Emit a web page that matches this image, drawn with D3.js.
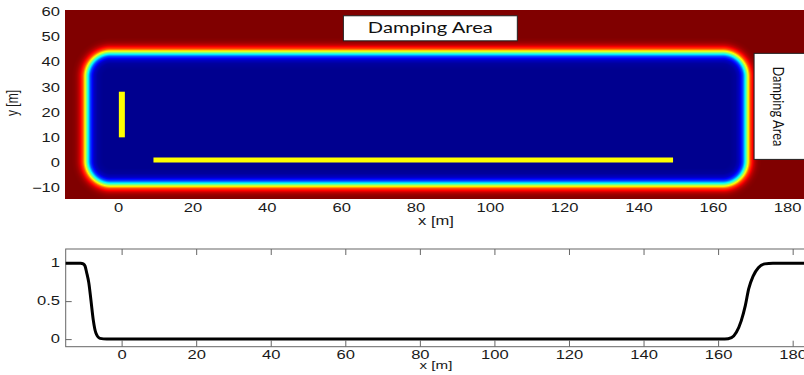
<!DOCTYPE html>
<html>
<head>
<meta charset="utf-8">
<script src="https://cdn.jsdelivr.net/npm/d3@7/dist/d3.min.js"></script>
<style>
  body { margin: 0; background: #fff; }
  svg { display: block; }
  .tick text { font-family: "Liberation Sans", Arial, sans-serif; font-size: 12px; fill: #1a1a1a; }
</style>
</head>
<body>
<svg id="chart" width="804" height="375"></svg>
<script>

// tick labels
var topXTicks = [0, 20, 40, 60, 80, 100, 120, 140, 160, 180];
var topYTicks = [-10, 0, 10, 20, 30, 40, 50, 60];
var botXTicks = [0, 20, 40, 60, 80, 100, 120, 140, 160, 180];
var botYTicks = [0, 0.5, 1];

// damping zone: inner edge (value 0.5) and corner radius, in metres
var dampEdgeX = [-8.5, 169.1];
var dampEdgeY = [-8.9, 43.8];
var dampCorner = 6.5;
// damping profile across the edge (distance outward in m -> coefficient)
var profileDist = [-4.5, -3, -2, -1, 0, 1, 2, 2.6, 3.2, 4];
var profileVal  = [0, 0.015, 0.06, 0.2, 0.5, 0.8, 0.93, 0.97, 0.99, 1];

// structures drawn in yellow
var wavemakerX = [1, 1],      wavemakerY = [10, 28.2];
var hullX      = [9.5, 149.3], hullY      = [1, 1];

// annotation boxes
var boxTopX = [60.6, 107.4],  boxTopY = [48.5, 58.5];
var boxRightX = [171.1, 190], boxRightY = [1.2, 43.5];

// damping coefficient along the tank (bottom plot)
var curveX = [-15, -12, -11, -10.3, -9.8, -9.4, -8.8, -8.2, -7.6, -6.9, -5.8, -4, 0, 20, 40, 60, 80,
              100, 120, 140, 160, 161.8, 163.6, 164.9, 166.2, 167.3, 168.2, 169.4, 170.8, 172.5, 174.7, 180, 185];
var curveY = [1, 1, 1, 0.99, 0.96, 0.88, 0.74, 0.5, 0.25, 0.08, 0.01, 0, 0, 0, 0, 0, 0,
              0, 0, 0, 0, 0, 0.02, 0.09, 0.24, 0.44, 0.66, 0.83, 0.94, 0.99, 1, 1, 1];

var svg = d3.select("#chart");
var SX = 1.38;   // labels in the picture are stretched sideways

// ---------- top plot ----------
var xTop = d3.scaleLinear().domain([-14.3, 184.8]).range([65, 805]);
var yTop = d3.scaleLinear().domain([-14.6, 60.8]).range([199, 10]);

var jet = d3.scaleLinear()
    .domain([0, 0.125, 0.375, 0.625, 0.875, 1])
    .range(["#00008f", "#0000ff", "#00ffff", "#ffff00", "#ff0000", "#800000"])
    .interpolate(d3.interpolateRgb)
    .clamp(true);
var profile = d3.scaleLinear().domain(profileDist).range(profileVal).clamp(true);

var x0 = xTop.range()[0], x1 = xTop.range()[1];
var y0 = yTop.range()[1], y1 = yTop.range()[0];
var W = Math.round(x1 - x0), H = Math.round(y1 - y0);
var canvas = document.createElement("canvas");
canvas.width = W; canvas.height = H;
var ctx = canvas.getContext("2d");
var img = ctx.createImageData(W, H);

var kx = xTop(1) - xTop(0);
var L = xTop(dampEdgeX[0]), R = xTop(dampEdgeX[1]);
var T = yTop(dampEdgeY[1]), B = yTop(dampEdgeY[0]);
var r = dampCorner * kx;
var cx = (L + R) / 2, cy = (T + B) / 2;
var hw = (R - L) / 2 - r, hh = (B - T) / 2 - r;

for (var j = 0; j < H; j++) {
    for (var i = 0; i < W; i++) {
        var px = x0 + i + 0.5, py = y0 + j + 0.5;
        var qx = Math.abs(px - cx) - hw, qy = Math.abs(py - cy) - hh;
        var sd = Math.hypot(Math.max(qx, 0), Math.max(qy, 0)) + Math.min(Math.max(qx, qy), 0) - r;
        var c = d3.rgb(jet(profile(sd / kx)));
        var k = (j * W + i) * 4;
        img.data[k] = c.r; img.data[k + 1] = c.g; img.data[k + 2] = c.b; img.data[k + 3] = 255;
    }
}
ctx.putImageData(img, 0, 0);

svg.append("image")
    .attr("x", x0).attr("y", y0)
    .attr("width", W).attr("height", H)
    .attr("preserveAspectRatio", "none")
    .attr("href", canvas.toDataURL());

svg.append("line")
    .attr("x1", xTop(wavemakerX[0])).attr("x2", xTop(wavemakerX[1]))
    .attr("y1", yTop(wavemakerY[0])).attr("y2", yTop(wavemakerY[1]))
    .attr("stroke", "#ffff00").attr("stroke-width", 6);
svg.append("line")
    .attr("x1", xTop(hullX[0])).attr("x2", xTop(hullX[1]))
    .attr("y1", yTop(hullY[0])).attr("y2", yTop(hullY[1]))
    .attr("stroke", "#ffff00").attr("stroke-width", 5);

// annotation boxes
svg.append("rect")
    .attr("x", xTop(boxTopX[0])).attr("y", yTop(boxTopY[1]))
    .attr("width", xTop(boxTopX[1]) - xTop(boxTopX[0]))
    .attr("height", yTop(boxTopY[0]) - yTop(boxTopY[1]))
    .attr("fill", "#fff").attr("stroke", "#222").attr("stroke-width", 1);
svg.append("text")
    .attr("x", (xTop(boxTopX[0]) + xTop(boxTopX[1])) / 2)
    .attr("y", yTop(boxTopY[0]) - 7.4)
    .attr("text-anchor", "middle")
    .attr("font-family", "Lato, 'Open Sans', sans-serif")
    .attr("font-size", 15)
    .attr("textLength", 125).attr("lengthAdjust", "spacingAndGlyphs")
    .attr("fill", "#111")
    .text("Damping Area");

svg.append("rect")
    .attr("x", xTop(boxRightX[0])).attr("y", yTop(boxRightY[1]))
    .attr("width", xTop(boxRightX[1]) - xTop(boxRightX[0]))
    .attr("height", yTop(boxRightY[0]) - yTop(boxRightY[1]))
    .attr("fill", "#fff").attr("stroke", "#222").attr("stroke-width", 1);
var rtx = xTop(boxRightX[0]) + 19, rty = (yTop(boxRightY[0]) + yTop(boxRightY[1])) / 2;
svg.append("text")
    .attr("transform", "translate(" + rtx + "," + rty + ") rotate(90)")
    .attr("text-anchor", "middle")
    .attr("font-family", "Lato, 'Open Sans', sans-serif")
    .attr("font-size", 15)
    .attr("textLength", 80).attr("lengthAdjust", "spacingAndGlyphs")
    .attr("fill", "#111")
    .text("Damping Area");

// top axes (labels only)
var gTopX = svg.append("g").attr("transform", "translate(0," + y1 + ")")
    .call(d3.axisBottom(xTop).tickValues(topXTicks).tickSize(0).tickFormat(d3.format("d")));
gTopX.select(".domain").remove();
gTopX.selectAll("text").attr("dy", null).attr("y", 13.5).attr("transform", "scale(" + SX + ",1)");

var gTopY = svg.append("g").attr("transform", "translate(" + x0 + ",0)")
    .call(d3.axisLeft(yTop).tickValues(topYTicks).tickSize(0).tickFormat(d3.format("d")));
gTopY.select(".domain").remove();
gTopY.selectAll("text").attr("x", -5 / SX).attr("transform", "scale(" + SX + ",1)");

svg.append("text")
    .attr("transform", "translate(436,225) scale(" + SX + ",1)")
    .attr("text-anchor", "middle")
    .attr("font-family", "Liberation Sans, Arial, sans-serif").attr("font-size", 12).attr("fill", "#1a1a1a")
    .text("x [m]");
svg.append("text")
    .attr("transform", "translate(18,103) rotate(-90) scale(1,1.3)")
    .attr("text-anchor", "middle")
    .attr("font-family", "Liberation Sans, Arial, sans-serif").attr("font-size", 12).attr("fill", "#1a1a1a")
    .text("y [m]");

// ---------- bottom plot ----------
var xBot = d3.scaleLinear().domain([-15, 185]).range([65.7, 811.3]);
var yBot = d3.scaleLinear().domain([-0.1, 1.186]).range([346.7, 249]);

var gridColor = "#666";
function styleAxis(g) {
    g.select(".domain").remove();
    g.selectAll(".tick line").attr("stroke", gridColor);
}

svg.append("g").attr("transform", "translate(0," + yBot.range()[0] + ")")
    .call(d3.axisBottom(xBot).tickValues(botXTicks).tickSizeInner(-6).tickSizeOuter(0).tickFormat(d3.format("d")))
    .call(styleAxis)
    .selectAll("text").attr("dy", null).attr("y", 12).attr("transform", "scale(" + SX + ",1)");
svg.append("g").attr("transform", "translate(0," + yBot.range()[1] + ")")
    .call(d3.axisTop(xBot).tickValues(botXTicks).tickSizeInner(-6).tickSizeOuter(0).tickFormat(""))
    .call(styleAxis);
svg.append("g").attr("transform", "translate(" + xBot.range()[0] + ",0)")
    .call(d3.axisLeft(yBot).tickValues(botYTicks).tickSizeInner(-6).tickSizeOuter(0).tickFormat(d3.format("")))
    .call(styleAxis)
    .selectAll("text").attr("x", -5.7 / SX).attr("transform", "scale(" + SX + ",1)");
svg.append("g").attr("transform", "translate(" + xBot.range()[1] + ",0)")
    .call(d3.axisRight(yBot).tickValues(botYTicks).tickSizeInner(-6).tickSizeOuter(0).tickFormat(""))
    .call(styleAxis);

svg.append("rect")
    .attr("x", xBot.range()[0]).attr("y", yBot.range()[1])
    .attr("width", xBot.range()[1] - xBot.range()[0])
    .attr("height", yBot.range()[0] - yBot.range()[1])
    .attr("fill", "none").attr("stroke", gridColor).attr("stroke-width", 1);

var line = d3.line()
    .x(function(d) { return xBot(d[0]); })
    .y(function(d) { return yBot(d[1]); })
    .curve(d3.curveMonotoneX);

svg.append("path")
    .datum(d3.zip(curveX, curveY))
    .attr("d", line)
    .attr("fill", "none")
    .attr("stroke", "#000")
    .attr("stroke-width", 3);

svg.append("text")
    .attr("transform", "translate(436,369) scale(" + SX + ",1)")
    .attr("text-anchor", "middle")
    .attr("font-family", "Liberation Sans, Arial, sans-serif").attr("font-size", 11).attr("fill", "#1a1a1a")
    .text("x [m]");

</script>
</body>
</html>
